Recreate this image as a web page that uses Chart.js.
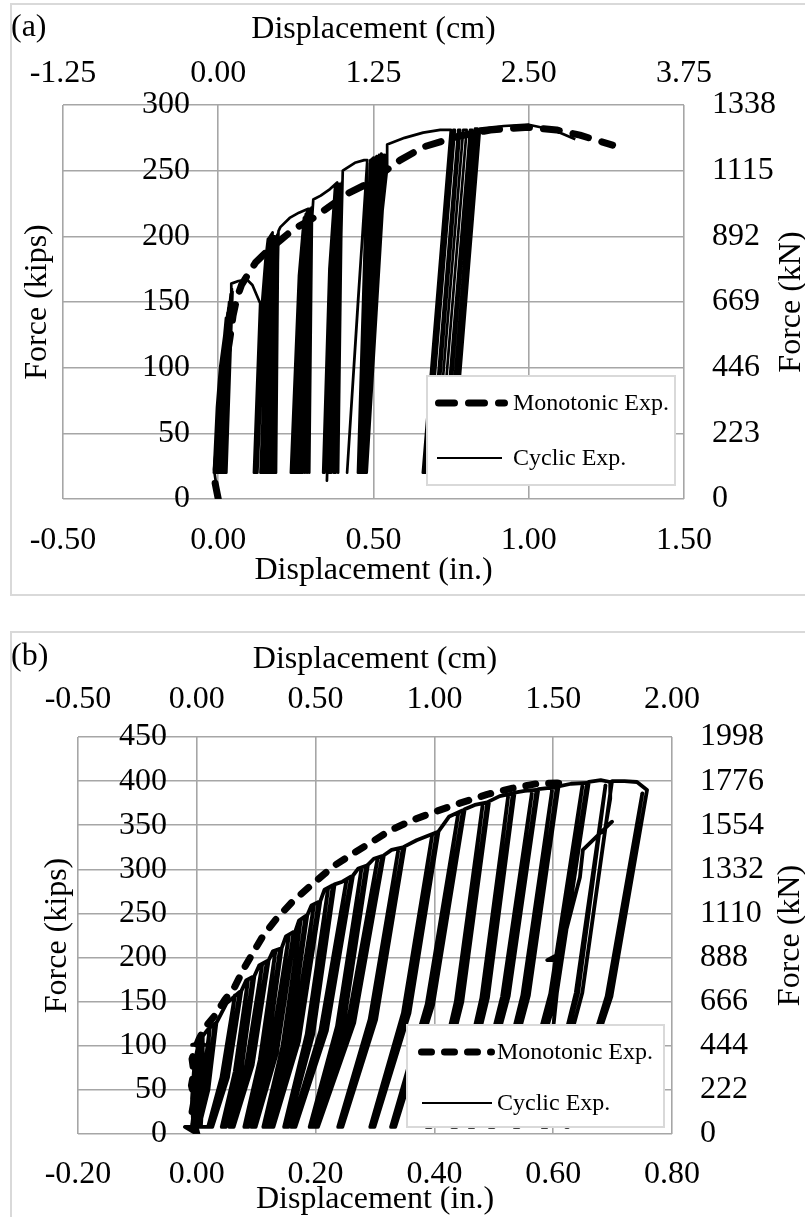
<!DOCTYPE html>
<html>
<head>
<meta charset="utf-8">
<script src="https://cdn.jsdelivr.net/npm/chart.js@4.4.1/dist/chart.umd.min.js"></script>
<style>
html,body{margin:0;padding:0;background:#fff;width:805px;height:1217px;overflow:hidden;position:relative;}
.frame{position:absolute;border:2px solid #d9d9d9;box-sizing:border-box;}
canvas{position:absolute;left:0;}
</style>
</head>
<body>
<div class="frame" style="left:10px;top:3px;width:810px;height:593px;"></div>
<div class="frame" style="left:10px;top:631px;width:810px;height:600px;"></div>
<canvas id="ca" width="805" height="600" style="top:0px;width:805px;height:600px;"></canvas>
<canvas id="cb" width="805" height="617" style="top:600px;width:805px;height:617px;"></canvas>
<script>
// ---------------- DATA ----------------
// Panel (a) axis ticks
const inTicksA   = [-0.5, 0, 0.5, 1.0, 1.5];
const cmTicksA   = [-1.25, 0, 1.25, 2.5, 3.75];
const kipsTicksA = [0, 50, 100, 150, 200, 250, 300];
const kNTicksA   = [0, 223, 446, 669, 892, 1115, 1338];
// Panel (b) axis ticks
const inTicksB   = [-0.2, 0, 0.2, 0.4, 0.6, 0.8];
const cmTicksB   = [-0.5, 0, 0.5, 1.0, 1.5, 2.0];
const kipsTicksB = [0, 50, 100, 150, 200, 250, 300, 350, 400, 450];
const kNTicksB   = [0, 222, 444, 666, 888, 1110, 1332, 1554, 1776, 1998];

const seriesNames = ['Monotonic Exp.', 'Cyclic Exp.'];

// Panel (a) monotonic [displacement in., force kips]
const monoA = [[0,0],[-0.01,12],[-0.004,30],[0.008,55],[0.018,85],[0.028,108],[0.038,123],[0.048,140],[0.06,153],[0.075,163],[0.093,170],[0.12,180],[0.15,187],[0.2,197],[0.24,205],[0.3,213],[0.36,223],[0.42,233],[0.48,240],[0.545,251],[0.586,258],[0.66,268],[0.77,276],[0.876,281],[1.0,283],[1.09,281],[1.165,277],[1.27,269.5]];

// Panel (a) cyclic, band by band
const cycA1 = [[0,0],[-0.012,20],[0.0,80],[0.012,102],[-0.014,20],[-0.004,70],[0.006,100],[0.02,125],[-0.01,20],[0.0,80],[0.016,115],[0.025,138],[-0.006,20],[0.004,80],[0.02,120],[0.03,142],[-0.002,20],[0.008,80],[0.024,125],[0.033,146],[0.003,20],[0.012,80],[0.028,130],[0.035,150],[0.008,20],[0.018,90],[0.032,135],[0.04,156],[0.014,20],[0.024,100],[0.036,140],[0.044,160],[0.02,20],[0.03,110],[0.04,145],[0.046,158],[0.026,20],[0.036,120],[0.044,150],[0.042,164],[0.065,166],[0.093,167],[0.11,163],[0.135,149]];
const cycA2 = [[0.115,20],[0.138,140],[0.152,182],[0.16,198],[0.117,20],[0.14,145],[0.154,185],[0.12,20],[0.143,150],[0.157,190],[0.123,20],[0.146,155],[0.16,195],[0.126,20],[0.149,160],[0.164,199],[0.175,203],[0.136,20],[0.158,150],[0.17,198],[0.14,20],[0.162,155],[0.173,199],[0.145,20],[0.166,160],[0.176,200],[0.15,20],[0.17,165],[0.179,200],[0.156,20],[0.174,168],[0.182,200],[0.162,20],[0.178,170],[0.185,199],[0.168,20],[0.182,172],[0.188,200],[0.174,20],[0.186,175],[0.19,201],[0.18,20],[0.189,178],[0.192,202],[0.186,20],[0.192,180],[0.194,204],[0.2,207]];
const cycA3 = [[0.23,214],[0.26,218],[0.29,221],[0.296,221],[0.234,20],[0.26,170],[0.276,214],[0.237,20],[0.263,175],[0.279,215],[0.241,20],[0.266,180],[0.282,217],[0.245,20],[0.27,185],[0.285,218],[0.25,20],[0.274,190],[0.288,219],[0.255,20],[0.278,195],[0.291,220],[0.26,20],[0.282,198],[0.294,220],[0.266,20],[0.286,200],[0.297,221],[0.272,20],[0.29,202],[0.299,221],[0.279,20],[0.294,205],[0.301,222],[0.286,20],[0.297,205],[0.302,222],[0.293,20],[0.3,205],[0.306,228]];
const cycA4 = [[0.33,231],[0.36,236],[0.383,241],[0.385,241],[0.338,20],[0.358,175],[0.376,237],[0.342,20],[0.362,180],[0.379,238],[0.35,14],[0.37,170],[0.383,240],[0.358,20],[0.376,185],[0.387,240],[0.364,20],[0.38,190],[0.39,240],[0.372,20],[0.386,195],[0.394,240],[0.378,20],[0.39,200],[0.398,241],[0.386,20],[0.396,200],[0.401,250]];
const cycA5 = [[0.44,256],[0.47,258],[0.48,258],[0.415,20],[0.45,150],[0.48,256],[0.45,20],[0.47,150],[0.49,258],[0.453,20],[0.475,155],[0.495,259],[0.456,20],[0.48,160],[0.5,260],[0.458,20],[0.485,165],[0.505,260],[0.46,20],[0.49,170],[0.51,261],[0.463,20],[0.495,175],[0.518,262],[0.466,20],[0.5,180],[0.525,263],[0.47,20],[0.505,185],[0.53,262],[0.472,20],[0.51,190],[0.535,262],[0.474,20],[0.515,195],[0.54,262],[0.478,20],[0.52,200],[0.544,252],[0.544,270]];
const cycA6 = [[0.6,275],[0.66,279],[0.715,281],[0.749,281],[0.659,20],[0.667,20],[0.757,281],[0.762,281],[0.672,20],[0.683,20],[0.773,281],[0.779,281],[0.69,20],[0.699,20],[0.789,281],[0.8,281],[0.71,20],[0.721,20],[0.811,281],[0.818,281],[0.728,20],[0.737,20],[0.827,282],[0.835,282],[0.745,20],[0.753,20],[0.843,282],[0.92,284],[1.0,285],[1.08,281],[1.15,274]];

// Panel (b) monotonic
const monoB = [[0,0],[-0.004,10],[-0.008,25],[-0.004,40],[-0.009,55],[-0.005,70],[-0.008,85],[-0.002,98],[0.004,108],[0.013,120],[0.03,134],[0.047,152],[0.064,167],[0.078,186],[0.095,206],[0.111,224],[0.134,244],[0.162,264],[0.196,284],[0.229,303],[0.263,318],[0.297,332],[0.325,344],[0.364,356],[0.404,366],[0.443,375],[0.489,385],[0.532,392],[0.572,397],[0.606,398],[0.623,396]];

// Panel (b) cyclic, band by band (unload, reload, unload, reload, then envelope)
const cycB01 = [[0,0],[-0.02,8],[0.025,8],[-0.006,8],[-0.008,40],[-0.004,80],[0.004,106],[0.008,110],[0.002,44],[-0.001,16],[-0.005,8],[-0.008,9],[-0.002,44],[0.004,107],[0.013,101],[-0.008,101],[0.004,103],[0.004,44],[0.001,8],[0.007,10],[0.01,44],[0.01,111],[0.018,118]];
const cycB02 = [[0.03,125],[0.0165,50],[0.0,8],[-0.003,8],[0.0085,50],[0.022,121],[0.0125,50],[-0.001,8],[0.004,8],[0.0195,50],[0.033,126],[0.05,148]];
const cycB03 = [[0.072,161],[0.0495,64],[0.022,8],[0.019,8],[0.0415,64],[0.064,157],[0.0455,64],[0.021,8],[0.026,8],[0.0525,64],[0.075,162],[0.083,174]];
const cycB04 = [[0.094,178],[0.072,71],[0.045,8],[0.042,8],[0.064,71],[0.086,174],[0.068,71],[0.044,8],[0.049,8],[0.075,71],[0.097,179],[0.105,191]];
const cycB05 = [[0.118,196],[0.091,78],[0.058,8],[0.055,8],[0.083,78],[0.11,192],[0.087,78],[0.057,8],[0.062,8],[0.094,78],[0.121,197],[0.128,207]];
const cycB06 = [[0.14,210],[0.114,84],[0.083,8],[0.08,8],[0.106,84],[0.132,206],[0.11,84],[0.082,8],[0.087,8],[0.117,84],[0.143,211],[0.15,224]];
const cycB07 = [[0.163,229],[0.132,92],[0.095,8],[0.092,8],[0.124,92],[0.155,225],[0.128,92],[0.094,8],[0.099,8],[0.135,92],[0.166,230],[0.172,242]];
const cycB08 = [[0.183,247],[0.152,99],[0.115,8],[0.112,8],[0.144,99],[0.175,243],[0.148,99],[0.114,8],[0.119,8],[0.155,99],[0.186,248],[0.193,259]];
const cycB09 = [[0.205,263],[0.169,105],[0.125,8],[0.122,8],[0.161,105],[0.197,259],[0.165,105],[0.124,8],[0.129,8],[0.172,105],[0.208,264],[0.215,277]];
const cycB10 = [[0.229,282],[0.193,113],[0.15,8],[0.147,8],[0.185,113],[0.221,278],[0.189,113],[0.149,8],[0.154,8],[0.196,113],[0.232,283],[0.245,286]];
const cycB11 = [[0.26,292],[0.216,117],[0.162,8],[0.159,8],[0.208,117],[0.252,288],[0.212,117],[0.161,8],[0.166,8],[0.219,117],[0.263,293],[0.272,301]];
const cycB12 = [[0.285,304],[0.244,122],[0.193,8],[0.19,8],[0.236,122],[0.277,300],[0.24,122],[0.192,8],[0.197,8],[0.247,122],[0.288,305],[0.298,312]];
const cycB13 = [[0.312,315],[0.262,126],[0.2,8],[0.197,8],[0.254,126],[0.304,311],[0.258,126],[0.199,8],[0.204,8],[0.265,126],[0.315,316],[0.328,322]];
const cycB14 = [[0.347,325],[0.299,130],[0.241,8],[0.238,8],[0.291,130],[0.339,321],[0.295,130],[0.24,8],[0.245,8],[0.302,130],[0.35,326],[0.37,333]];
const cycB15 = [[0.404,342],[0.355,137],[0.295,8],[0.292,8],[0.347,137],[0.396,338],[0.351,137],[0.294,8],[0.299,8],[0.358,137],[0.407,343],[0.425,360]];
const cycB16 = [[0.448,367],[0.395,147],[0.33,8],[0.327,8],[0.387,147],[0.44,363],[0.391,147],[0.329,8],[0.334,8],[0.398,147],[0.451,368],[0.468,373]];
const cycB17 = [[0.489,376],[0.444,150],[0.39,8],[0.387,8],[0.436,150],[0.481,372],[0.44,150],[0.389,8],[0.394,8],[0.447,150],[0.492,377],[0.51,383]];
const cycB18 = [[0.532,386],[0.487,154],[0.433,8],[0.43,8],[0.479,154],[0.524,382],[0.483,154],[0.432,8],[0.437,8],[0.49,154],[0.535,387],[0.552,389]];
const cycB19 = [[0.572,390],[0.522,156],[0.462,8],[0.459,8],[0.514,156],[0.564,386],[0.518,156],[0.461,8],[0.466,8],[0.525,156],[0.575,391],[0.59,392]];
const cycB20 = [[0.606,393],[0.556,157],[0.496,8],[0.493,8],[0.548,157],[0.598,389],[0.552,157],[0.495,8],[0.5,8],[0.559,157],[0.609,394],[0.63,397]];
const cycB21 = [[0.657,398],[0.603,159],[0.538,8],[0.535,8],[0.595,159],[0.649,394],[0.599,159],[0.537,8],[0.542,8],[0.606,159],[0.66,399],[0.68,401]];
const cycB22 = [[0.696,399],[0.696,380],[0.688,348],[0.699,354],[0.65,322],[0.645,291],[0.612,205],[0.59,197],[0.612,197],[0.6,120],[0.585,8],[0.582,8],[0.638,160],[0.688,395],[0.642,160],[0.584,8],[0.589,8],[0.649,160],[0.699,400],[0.72,400],[0.741,399]];
const cycB23 = [[0.758,390],[0.698,156],[0.625,8],[0.622,8],[0.69,156],[0.75,386],[0.694,156],[0.624,8]];

// ---------------- RENDERING ----------------
const FONT = '"Liberation Serif", "Times New Roman", serif';
Chart.defaults.font.family = FONT;
Chart.defaults.font.size = 32;
Chart.defaults.font.lineHeight = 1;
Chart.defaults.color = '#000';

const toXY = arr => arr.map(p => ({x: p[0], y: p[1]}));
const fix2 = v => Number(v).toFixed(2);
const plain = v => String(Math.round(v));
const setTicks = arr => (s => { s.ticks = arr.map(v => ({value: v})); });

const extras = {
  id: 'extras',
  afterDraw(chart, args, o) {
    const ctx = chart.ctx;
    ctx.save();
    ctx.fillStyle = '#000';
    ctx.font = '32px ' + FONT;
    ctx.textBaseline = 'middle';
    ctx.textAlign = 'left';
    ctx.fillText(o.panel, o.panelX, o.panelY);
    ctx.save();
    ctx.translate(o.rtX, o.rtY);
    ctx.rotate(-Math.PI / 2);
    ctx.textAlign = 'center';
    ctx.fillText(o.rightTitle, 0, 0);
    ctx.restore();
    const L = o.legend;
    ctx.fillStyle = '#fff';
    ctx.fillRect(L.x, L.y, L.w, L.h);
    ctx.strokeStyle = '#d9d9d9';
    ctx.lineWidth = 2;
    ctx.strokeRect(L.x, L.y, L.w, L.h);
    const ds = chart.data.datasets;
    const rows = [[ds[0], L.monoX1, L.monoX2, L.monoY], [ds[1], L.cycX1, L.cycX2, L.cycY]];
    rows.forEach(r => {
      const d = r[0];
      ctx.save();
      ctx.strokeStyle = d.borderColor;
      ctx.lineWidth = d.legendWidth || d.borderWidth;
      ctx.lineCap = d.borderCapStyle || 'butt';
      ctx.setLineDash(d.borderDash || []);
      ctx.beginPath();
      const cap = d.borderCapStyle === 'round' ? d.borderWidth / 2 : 0;
      ctx.moveTo(r[1] + cap, r[3]);
      ctx.lineTo(r[2] - cap, r[3]);
      ctx.stroke();
      ctx.restore();
      ctx.fillStyle = '#000';
      ctx.font = '24px ' + FONT;
      ctx.textBaseline = 'middle';
      ctx.textAlign = 'left';
      ctx.fillText(d.label, L.textX, r[3] + 1);
    });
    ctx.restore();
  }
};

function build(id, G, T, mono, cyc, monoStyle, cycWidth) {
  const gridStyle = {color: '#a6a6a6', lineWidth: 1.6, drawTicks: false, tickLength: 0};
  return new Chart(document.getElementById(id), {
    type: 'scatter',
    data: {
      datasets: [
        Object.assign({label: seriesNames[0], data: toXY(mono), showLine: true, borderColor: '#000', backgroundColor: '#000',
          pointRadius: 0, borderCapStyle: 'round', borderJoinStyle: 'round', tension: 0, xAxisID: 'x', yAxisID: 'y'}, monoStyle),
        {label: seriesNames[1], data: toXY(cyc), showLine: true, borderColor: '#000', backgroundColor: '#000',
          borderWidth: cycWidth, legendWidth: 2, pointRadius: 0, borderJoinStyle: 'round', tension: 0, xAxisID: 'x', yAxisID: 'y'}
      ]
    },
    options: {
      responsive: false, animation: false, devicePixelRatio: 1,
      layout: {padding: 0},
      plugins: {legend: {display: false}, tooltip: {enabled: false}, extras: G.extras},
      scales: {
        x: {type: 'linear', position: 'bottom', min: T.inT[0], max: T.inT[T.inT.length - 1],
          afterBuildTicks: setTicks(T.inT), afterFit: s => { s.height = G.H - G.bottom; },
          grid: gridStyle, border: {display: false},
          ticks: {padding: G.xTickPad, callback: fix2, autoSkip: false, maxRotation: 0, minRotation: 0},
          title: {display: true, text: 'Displacement (in.)', padding: {top: 0, bottom: G.xTitlePad}}},
        x2: {type: 'linear', position: 'top', min: T.cmT[0], max: T.cmT[T.cmT.length - 1],
          afterBuildTicks: setTicks(T.cmT), afterFit: s => { s.height = G.top; },
          grid: {display: false, drawTicks: false, tickLength: 0}, border: {display: false},
          ticks: {padding: G.x2TickPad, callback: fix2, autoSkip: false, maxRotation: 0, minRotation: 0},
          title: {display: true, text: 'Displacement (cm)', padding: {top: G.x2TitlePad, bottom: 0}}},
        y: {type: 'linear', position: 'left', min: T.kipsT[0], max: T.kipsT[T.kipsT.length - 1],
          afterBuildTicks: setTicks(T.kipsT), afterFit: s => { s.width = G.left; },
          grid: gridStyle, border: {display: false},
          ticks: {mirror: true, crossAlign: 'far', padding: G.yTickPad, autoSkip: false, callback: plain},
          title: {display: true, text: 'Force (kips)', padding: {top: G.yTitlePad, bottom: 0}}},
        y2: {type: 'linear', position: 'right', min: T.kNT[0], max: T.kNT[T.kNT.length - 1],
          afterBuildTicks: setTicks(T.kNT), afterFit: s => { s.width = G.W - G.right; },
          grid: {display: false, drawTicks: false, tickLength: 0}, border: {display: false},
          ticks: {padding: G.y2TickPad, autoSkip: false, callback: plain},
          title: {display: false}}
      }
    },
    plugins: [extras]
  });
}

const cyclicA = [].concat(cycA1, cycA2, cycA3, cycA4, cycA5, cycA6);
const cyclicB = [].concat(cycB01, cycB02, cycB03, cycB04, cycB05, cycB06, cycB07, cycB08, cycB09, cycB10, cycB11, cycB12,
  cycB13, cycB14, cycB15, cycB16, cycB17, cycB18, cycB19, cycB20, cycB21, cycB22, cycB23);

build('ca',
  {W: 805, H: 600, left: 63, right: 684, top: 105, bottom: 499,
   xTickPad: 26, xTitlePad: 13, x2TickPad: 15, x2TitlePad: 14, yTitlePad: 22, yTickPad: 79, y2TickPad: 28,
   extras: {panel: '(a)', panelX: 11, panelY: 28, rightTitle: 'Force (kN)', rtX: 792, rtY: 302,
     legend: {x: 427, y: 376, w: 248, h: 109, monoY: 403, monoX1: 435, monoX2: 508, cycY: 458, cycX1: 437, cycX2: 502, textX: 513}}},
  {inT: inTicksA, cmT: cmTicksA, kipsT: kipsTicksA, kNT: kNTicksA},
  monoA, cyclicA, {borderWidth: 7, borderDash: [16, 14]}, 2.7);

build('cb',
  {W: 805, H: 617, left: 78, right: 672, top: 137, bottom: 534,
   xTickPad: 25, xTitlePad: 1, x2TickPad: 21, x2TitlePad: 44, yTitlePad: 42, yTickPad: 41, y2TickPad: 28,
   extras: {panel: '(b)', panelX: 11, panelY: 57, rightTitle: 'Force (kN)', rtX: 791, rtY: 335.5,
     legend: {x: 407, y: 425, w: 257, h: 102, monoY: 452, monoX1: 418, monoX2: 495, cycY: 503, cycX1: 422, cycX2: 492, textX: 497}}},
  {inT: inTicksB, cmT: cmTicksB, kipsT: kipsTicksB, kNT: kNTicksB},
  monoB, cyclicB, {borderWidth: 7, borderDash: [10, 13]}, 3.8);
</script>
</body>
</html>
